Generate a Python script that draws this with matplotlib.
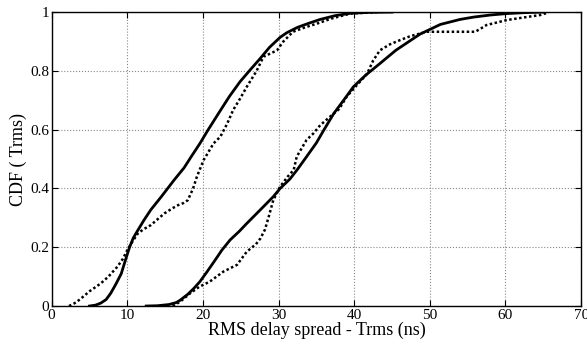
import numpy as np
import matplotlib
matplotlib.use("Agg")
import matplotlib.pyplot as plt

plt.rcParams['font.family'] = ['Liberation Serif', 'DejaVu Serif']

# left pair of CDFs
solid1_x = [5.0, 5.8, 6.5, 7.2, 7.8, 8.5, 9.2, 9.8, 10.3, 10.8, 11.4, 12.2, 13.1, 14.5, 16.2,
            17.5, 18.5, 19.6, 20.7, 22.3, 23.5, 24.9, 26.3, 27.5, 28.8, 30.2, 31.1, 32.5,
            34.0, 35.5, 37.5, 39.5, 42.0, 45.0]
solid1_y = [0.0, 0.003, 0.01, 0.022, 0.043, 0.075, 0.11, 0.16, 0.20, 0.232, 0.258, 0.292, 0.327, 0.372, 0.429,
            0.47, 0.51, 0.553, 0.60, 0.665, 0.713, 0.763, 0.805, 0.84, 0.88, 0.914, 0.93, 0.948,
            0.962, 0.975, 0.988, 0.996, 0.999, 1.0]

dot1_x = [2.3, 3.2, 3.9, 5.0, 6.5, 7.5, 8.7, 9.4, 10.0, 10.7, 11.4, 12.2, 13.1, 14.0, 14.9, 16.0, 16.7,
          17.4, 18.0, 18.7, 19.2, 20.1, 21.4, 22.3, 23.2, 24.0, 24.9, 25.8, 27.1, 28.0, 29.0, 29.8,
          30.6, 31.9, 33.5, 35.0, 37.0, 39.5, 43.0]
dot1_y = [0.0, 0.012, 0.026, 0.05, 0.077, 0.10, 0.134, 0.16, 0.19, 0.22, 0.247, 0.262, 0.275, 0.295, 0.315, 0.333, 0.343,
          0.35, 0.36, 0.40, 0.44, 0.497, 0.553, 0.576, 0.62, 0.667, 0.705, 0.746, 0.80, 0.848, 0.86, 0.87,
          0.899, 0.933, 0.948, 0.96, 0.978, 0.995, 1.0]

# right pair of CDFs
solid2_x = [12.5, 14.0, 15.5, 16.5, 17.0, 18.0, 18.8, 19.6, 20.5, 21.5, 22.5, 23.6, 24.8, 25.8, 27.5,
            29.3, 30.2, 31.5, 32.5, 33.7, 35.0, 35.9, 37.3, 38.6, 39.9, 41.5, 43.4, 45.5, 48.7,
            51.4, 54.0, 55.8, 58.0, 60.2, 62.5, 65.0]
solid2_y = [0.0, 0.001, 0.005, 0.012, 0.02, 0.04, 0.06, 0.083, 0.115, 0.152, 0.19, 0.225, 0.254, 0.281, 0.325,
            0.372, 0.40, 0.432, 0.465, 0.508, 0.555, 0.595, 0.655, 0.70, 0.746, 0.785, 0.825, 0.87, 0.925,
            0.958, 0.975, 0.983, 0.99, 0.995, 0.998, 1.0]

dot2_x = [16.0, 17.0, 18.3, 19.5, 20.9, 22.7, 24.5, 25.8, 27.0, 27.6, 28.2, 28.7, 29.3, 30.2, 31.2,
          32.0, 32.4, 33.7, 34.6, 35.5, 36.8, 38.0, 39.0, 40.3, 41.7, 42.5, 43.4, 44.7, 46.1, 47.4,
          49.6, 56.0, 56.8, 57.5, 60.2, 62.5, 64.6, 65.7]
dot2_y = [0.0, 0.015, 0.043, 0.065, 0.083, 0.117, 0.14, 0.185, 0.21, 0.23, 0.26, 0.304, 0.36, 0.406, 0.44,
          0.463, 0.508, 0.565, 0.587, 0.615, 0.644, 0.67, 0.712, 0.75, 0.79, 0.835, 0.87, 0.89, 0.905, 0.918,
          0.933, 0.933, 0.945, 0.956, 0.973, 0.982, 0.99, 0.999]

x_ticks = [0, 10, 20, 30, 40, 50, 60, 70]
y_ticks = [0, 0.2, 0.4, 0.6, 0.8, 1]

fig = plt.figure(figsize=(5.87, 3.45), dpi=100)
ax = fig.add_axes([0.088, 0.113, 0.902, 0.852])

ax.plot(solid1_x, solid1_y, 'k-', lw=2.0)
ax.plot(dot1_x, dot1_y, 'k', lw=1.8, dashes=(1.0, 1.0))
ax.plot(solid2_x, solid2_y, 'k-', lw=2.0)
ax.plot(dot2_x, dot2_y, 'k', lw=1.8, dashes=(1.0, 1.0))

ax.set_xlim(0, 70)
ax.set_ylim(0, 1)
ax.set_xticks(x_ticks)
ax.set_yticks(y_ticks)
ax.set_xticklabels([str(v) for v in x_ticks])
ax.set_yticklabels(['0', '0.2', '0.4', '0.6', '0.8', '1'])
ax.tick_params(direction='in', top=True, right=True, labelsize=11, length=4, pad=2)
ax.grid(True, ls=':', color='#888888', lw=0.8)
for s in ax.spines.values():
    s.set_linewidth(1.0)

ax.set_xlabel('RMS delay spread - Trms (ns)', fontsize=13, labelpad=0)
ax.set_ylabel('CDF ( Trms)', fontsize=13, labelpad=2)

fig.savefig('out.png', dpi=100)
